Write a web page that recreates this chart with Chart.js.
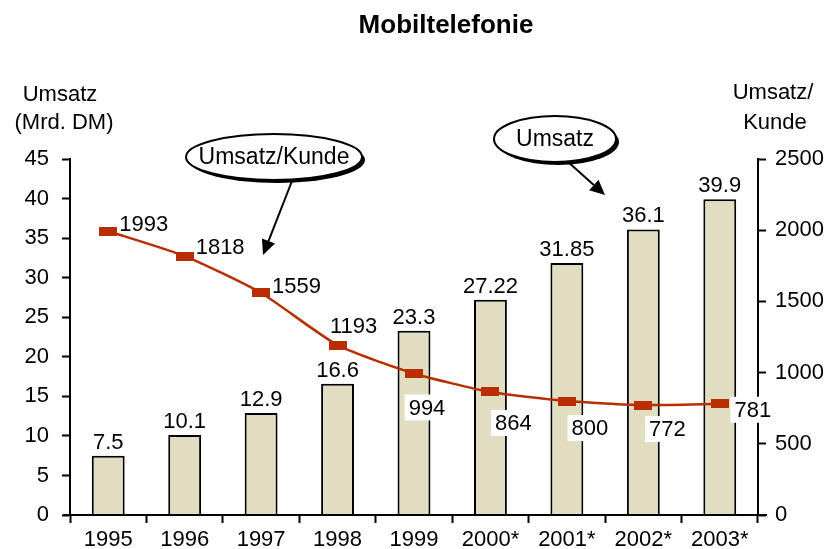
<!DOCTYPE html>
<html>
<head>
<meta charset="utf-8">
<script src="https://cdn.jsdelivr.net/npm/chart.js@4"></script>
<style>
  html, body { margin: 0; padding: 0; background: #fff; }
  #wrap { width: 830px; height: 549px; }
</style>
</head>
<body>
<div id="wrap"><canvas id="chart" width="830" height="549"></canvas></div>
<script>
const years = ['1995', '1996', '1997', '1998', '1999', '2000*', '2001*', '2002*', '2003*'];
const umsatz = [7.5, 10.1, 12.9, 16.6, 23.3, 27.22, 31.85, 36.1, 39.9];
const umsatzProKunde = [1993, 1818, 1559, 1193, 994, 864, 800, 772, 781];
const umsatzLabels = ['7.5', '10.1', '12.9', '16.6', '23.3', '27.22', '31.85', '36.1', '39.9'];

// where each Umsatz/Kunde label sits relative to its point
const lineLabelPlace = [
    { dx: 11, dy: -6, align: 'left', box: false },
    { dx: 11, dy: -8, align: 'left', box: false },
    { dx: 11, dy: -6, align: 'left', box: false },
    { dx: 16, dy: -18, align: 'center', box: false },
    { dx: 13, dy: 35, align: 'center', box: true },
    { dx: 23, dy: 32, align: 'center', box: true },
    { dx: 23, dy: 28, align: 'center', box: true },
    { dx: 24, dy: 25, align: 'center', box: true },
    { dx: 33, dy: 7, align: 'center', box: true }
];

const FONT = "'Liberation Sans', Arial, sans-serif";
const lineColor = '#B82E00';
const barColor = '#E1DDC0';

const marker = document.createElement('canvas');
marker.width = 18;
marker.height = 9;
const mctx = marker.getContext('2d');
mctx.fillStyle = lineColor;
mctx.fillRect(0, 0, 18, 9);

function arrow(ctx, x1, y1, x2, y2) {
    const ang = Math.atan2(y2 - y1, x2 - x1);
    const len = 15, half = 7;
    const bx = x2 - len * Math.cos(ang), by = y2 - len * Math.sin(ang);
    ctx.strokeStyle = '#000';
    ctx.lineWidth = 2;
    ctx.beginPath();
    ctx.moveTo(x1, y1);
    ctx.lineTo(bx, by);
    ctx.stroke();
    ctx.fillStyle = '#000';
    ctx.beginPath();
    ctx.moveTo(x2, y2);
    ctx.lineTo(bx + half * Math.sin(ang), by - half * Math.cos(ang));
    ctx.lineTo(bx - half * Math.sin(ang), by + half * Math.cos(ang));
    ctx.closePath();
    ctx.fill();
}

function callout(ctx, cx, cy, rx, ry, text) {
    ctx.fillStyle = '#000';
    ctx.beginPath();
    ctx.ellipse(cx + 3, cy + 3, rx, ry, 0, 0, Math.PI * 2);
    ctx.fill();
    ctx.fillStyle = '#fff';
    ctx.strokeStyle = '#000';
    ctx.lineWidth = 2;
    ctx.beginPath();
    ctx.ellipse(cx, cy, rx, ry, 0, 0, Math.PI * 2);
    ctx.fill();
    ctx.stroke();
    ctx.fillStyle = '#000';
    ctx.font = '23px ' + FONT;
    ctx.textAlign = 'center';
    ctx.textBaseline = 'middle';
    ctx.fillText(text, cx, cy + 1);
}

const decorPlugin = {
    id: 'decor',
    afterDatasetsDraw(chart) {
        const ctx = chart.ctx;
        const area = chart.chartArea;
        ctx.save();

        // x axis line runs a little past both y axes
        ctx.strokeStyle = '#000';
        ctx.lineWidth = 2;
        ctx.beginPath();
        ctx.moveTo(area.left - 7, area.bottom);
        ctx.lineTo(area.right + 9, area.bottom);
        ctx.stroke();

        ctx.font = '22px ' + FONT;
        ctx.fillStyle = '#000';
        ctx.textBaseline = 'middle';

        // bar values
        ctx.textAlign = 'center';
        chart.getDatasetMeta(0).data.forEach((bar, i) => {
            ctx.fillText(umsatzLabels[i], bar.x, bar.y - 13);
        });

        // Umsatz/Kunde values
        chart.getDatasetMeta(1).data.forEach((pt, i) => {
            const p = lineLabelPlace[i];
            const txt = String(umsatzProKunde[i]);
            const x = pt.x + p.dx, y = pt.y + p.dy;
            const w = ctx.measureText(txt).width;
            const left = p.align === 'left' ? x : x - w / 2;
            if (p.box) {
                ctx.fillStyle = '#fff';
                ctx.fillRect(left - 4, y - 14, w + 10, 26);
            }
            ctx.fillStyle = '#000';
            ctx.textAlign = 'left';
            ctx.fillText(txt, left, y);
        });

        // callouts
        callout(ctx, 274, 157, 88, 23, 'Umsatz/Kunde');
        arrow(ctx, 292, 181, 263, 255);
        callout(ctx, 555, 139, 61, 23, 'Umsatz');
        arrow(ctx, 567, 161, 605, 195);

        ctx.restore();
    },
    afterDraw(chart) {
        const ctx = chart.ctx;
        ctx.save();
        ctx.fillStyle = '#000';
        ctx.textAlign = 'center';
        ctx.textBaseline = 'middle';
        ctx.font = 'bold 26px ' + FONT;
        ctx.fillText('Mobiltelefonie', 446, 26);
        ctx.font = '22px ' + FONT;
        ctx.fillText('Umsatz', 60, 95);
        ctx.fillText('(Mrd. DM)', 64, 123);
        ctx.fillText('Umsatz/', 773, 93);
        ctx.fillText('Kunde', 775, 123);
        ctx.restore();
    }
};

const tickFont = { family: FONT, size: 22 };

new Chart(document.getElementById('chart'), {
    type: 'bar',
    data: {
        labels: years,
        datasets: [
            {
                type: 'bar',
                label: 'Umsatz',
                data: umsatz,
                yAxisID: 'y',
                backgroundColor: barColor,
                borderColor: '#000',
                borderWidth: 2,
                categoryPercentage: 1,
                barPercentage: 0.43,
                order: 1
            },
            {
                type: 'line',
                label: 'Umsatz/Kunde',
                data: umsatzProKunde,
                yAxisID: 'y1',
                borderColor: lineColor,
                borderWidth: 2.5,
                tension: 0.2,
                pointStyle: marker,
                pointRadius: 9,
                order: 0
            }
        ]
    },
    options: {
        responsive: false,
        animation: false,
        devicePixelRatio: 1,
        layout: { padding: { top: 159, left: 0, right: 0, bottom: 0 } },
        plugins: {
            legend: { display: false },
            tooltip: { enabled: false }
        },
        scales: {
            x: {
                offset: true,
                grid: {
                    offset: true,
                    drawOnChartArea: false,
                    drawTicks: true,
                    tickLength: 8,
                    tickWidth: 2,
                    tickColor: '#000'
                },
                border: { display: false },
                ticks: { color: '#000', font: tickFont, padding: 4, maxRotation: 0, autoSkip: false },
                afterFit: s => { s.height = 34; }
            },
            y: {
                position: 'left',
                min: 0,
                max: 45,
                grid: {
                    drawOnChartArea: false,
                    tickLength: 8,
                    tickWidth: 2,
                    tickColor: '#000'
                },
                border: { color: '#000', width: 2 },
                ticks: { stepSize: 5, color: '#000', font: tickFont, padding: 13 },
                afterFit: s => { s.width = 70; }
            },
            y1: {
                position: 'right',
                min: 0,
                max: 2500,
                grid: {
                    drawOnChartArea: false,
                    tickLength: 8,
                    tickWidth: 2,
                    tickColor: '#000'
                },
                border: { color: '#000', width: 2 },
                ticks: { stepSize: 500, color: '#000', font: tickFont, padding: 9, callback: v => String(v) },
                afterFit: s => { s.width = 72; }
            }
        }
    },
    plugins: [decorPlugin]
});
</script>
</body>
</html>
